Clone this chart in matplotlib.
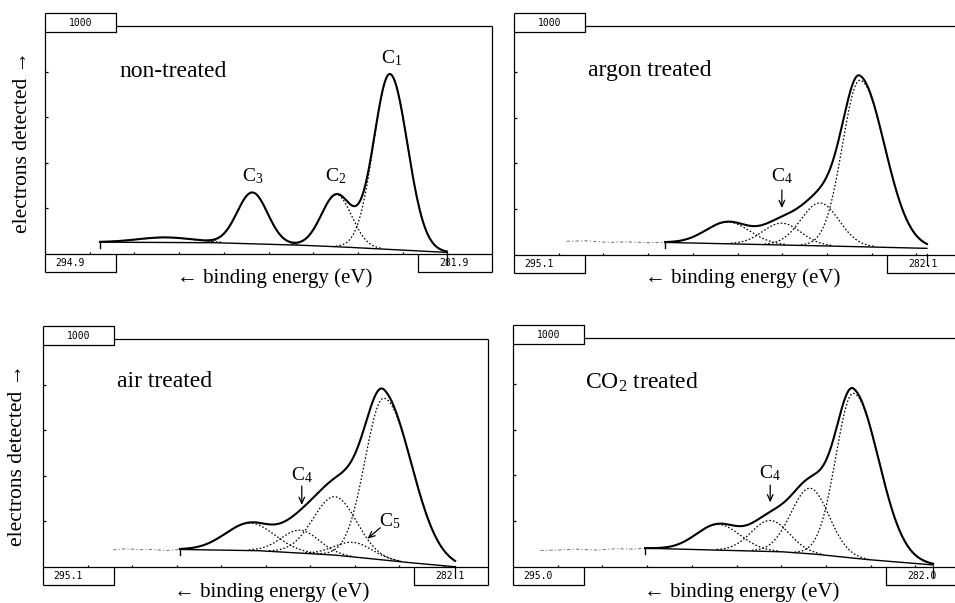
import numpy as np
import matplotlib
matplotlib.use('Agg')
import matplotlib.pyplot as plt

plt.rcParams['font.family'] = ['Liberation Serif', 'DejaVu Serif']
plt.rcParams['mathtext.fontset'] = 'custom'
plt.rcParams['mathtext.rm'] = 'Liberation Serif'
plt.rcParams['mathtext.it'] = 'Liberation Serif:italic'

# ---------------- data ----------------
titles = ['non-treated', 'argon treated', 'air treated', 'CO$_2$ treated']
axis_ranges = [(294.9, 281.9), (295.1, 282.1), (295.1, 282.1), (295.0, 282.0)]
range_labels = [('294.9', '281.9'), ('295.1', '282.1'), ('295.1', '282.1'), ('295.0', '282.0')]
top_label = '1000'

# fitted peak components: centre (eV), height (counts above background),
# half widths at half maximum on the high-BE (left) and low-BE (right) side
nt_centers = [291.40, 288.87, 286.42, 284.87]
nt_heights = [22, 225, 228, 769]
nt_hw_left = [0.95, 0.52, 0.52, 0.55]
nt_hw_right = [0.95, 0.52, 0.52, 0.60]
nt_bg_ev = [293.30, 290.10, 287.70, 286.40, 283.21]
nt_bg_val = [52, 50, 40, 32, 7]
nt_tail_ev = []
nt_tail_val = []

ar_centers = [288.88, 287.31, 286.20, 285.04]
ar_heights = [95, 95, 187, 727]
ar_hw_left = [0.75, 0.65, 0.65, 0.60]
ar_hw_right = [0.75, 0.65, 0.65, 0.85]
ar_bg_ev = [290.71, 286.40, 283.09]
ar_bg_val = [55, 41, 29]
ar_tail_ev = [293.57, 293.00, 292.40, 291.80, 291.20, 290.71]
ar_tail_val = [60, 62, 55, 57, 54, 55]

ai_centers = [289.05, 287.59, 286.57, 286.03, 285.14]
ai_heights = [120, 100, 256, 64, 710]
ai_hw_left = [0.85, 0.65, 0.75, 0.65, 0.65]
ai_hw_right = [0.85, 0.65, 0.75, 0.65, 0.95]
ai_bg_ev = [291.10, 288.86, 286.62, 284.67, 283.06]
ai_bg_val = [77, 72, 53, 23, 1]
ai_tail_ev = [293.05, 292.70, 292.30, 291.90, 291.50, 291.10]
ai_tail_val = [75, 80, 76, 77, 72, 77]

co_centers = [289.03, 287.52, 286.36, 285.10]
co_heights = [112, 135, 286, 720]
co_hw_left = [0.75, 0.65, 0.65, 0.60]
co_hw_right = [0.75, 0.65, 0.65, 0.87]
co_bg_ev = [291.16, 287.23, 286.27, 284.82, 282.78]
co_bg_val = [82, 67, 57, 34, 9]
co_tail_ev = [294.20, 293.70, 293.20, 292.60, 292.00, 291.60, 291.16]
co_tail_val = [72, 74, 78, 74, 80, 78, 82]

# peak annotations: (text, eV, counts) and arrows ((eV, counts) from -> to)
nt_labels = [('C$_1$', 284.81, 836), ('C$_2$', 286.46, 317), ('C$_3$', 288.87, 317)]
nt_arrows = []
ar_labels = [('C$_4$', 287.31, 320)]
ar_arrows = [((287.31, 284), (287.31, 205))]
ai_labels = [('C$_4$', 287.54, 382), ('C$_5$', 284.96, 177)]
ai_arrows = [((287.54, 355), (287.54, 272)), ((285.25, 172), (285.62, 124))]
co_labels = [('C$_4$', 287.52, 387)]
co_arrows = [((287.52, 358), (287.52, 282))]

# ---------------- layout ----------------
W, H = 955, 603
fig = plt.figure(figsize=(W / 100, H / 100), dpi=100)

# pixel geometry of each panel frame: left, right, baseline, top
geoms = [(45, 492, 254, 26), (514, 961, 255, 26), (43, 488, 567, 339), (513, 960, 567, 338)]
title_pos = [(119, 77), (588, 76), (117, 387), (585, 389)]
xlabel_pos = [(275, 278), (743, 278), (272, 592), (742, 592)]
ylabel_pos = [(23, 142), None, (18, 455), None]


def component(x, c, h, hl, hr):
    hw = np.where(x > c, hl, hr)
    return h * np.exp(-np.log(2) * ((x - c) / hw) ** 2)


def draw_panel(i, centers, heights, hwl, hwr, bg_ev, bg_val, tail_ev, tail_val, labels, arrows):
    l, r, base, top = geoms[i]
    pw, ph = r - l, base - top
    ax = fig.add_axes([l / W, 1 - base / H, pw / W, ph / H])
    x0, x1 = axis_ranges[i]
    ax.set_xlim(x0, x1)
    ax.set_ylim(0, 1000)
    ax.axis('off')
    T = ax.transAxes
    fx = lambda p: p / pw
    fy = lambda p: p / ph
    k = dict(transform=T, clip_on=False, color='black', lw=0.9, solid_capstyle='butt')
    bw = fx(71)
    rb = 1 - fx(74)
    # frame
    ax.plot([0, 0], [1 + fy(13), -fy(18)], **k)
    ax.plot([0, bw, bw, 0], [1 + fy(13), 1 + fy(13), 1 - fy(6), 1 - fy(6)], **k)
    ax.plot([bw, 1], [1, 1], **k)
    ax.plot([1, 1], [1, -fy(18)], **k)
    ax.plot([0, 1], [0, 0], **k)
    ax.plot([0, bw, bw], [-fy(18), -fy(18), 0], **k)
    ax.plot([rb, rb, 1], [0, -fy(18), -fy(18)], **k)
    for t in range(1, 10):
        ax.plot([t / 10, t / 10], [0, fy(2.5)], **k)
    for t in range(1, 5):
        ax.plot([0, fx(3)], [t / 5, t / 5], **k)
    mono = dict(transform=T, fontsize=7, family='DejaVu Sans Mono', va='center')
    ax.text(bw / 2, 1 + fy(3.5), top_label, ha='center', **mono)
    ax.text(fx(10), -fy(9), range_labels[i][0], ha='left', **mono)
    ax.text(rb + fx(36), -fy(9), range_labels[i][1], ha='center', **mono)

    # spectrum
    start, end = bg_ev[0], bg_ev[-1]
    xg = np.linspace(start, end, 600)
    bg = np.interp(xg, bg_ev[::-1], bg_val[::-1])
    comps = [component(xg, c, h, a, b) for c, h, a, b in zip(centers, heights, hwl, hwr)]
    env = bg + np.sum(comps, axis=0)
    if tail_ev:
        ax.plot(tail_ev, tail_val, color='0.5', lw=0.8, ls=(0, (3, 2, 1, 2)))
    for comp in comps:
        m = comp > 2.5
        ax.plot(xg[m], (bg + comp)[m], color='black', lw=0.9, ls=(0, (1.3, 1.6)))
    ax.plot(xg, bg, color='black', lw=1.0)
    ax.plot(xg, env, color='black', lw=1.5)
    ax.plot([start, start], [bg_val[0], bg_val[0] - 26], color='black', lw=1.0)
    ax.plot([end, end], [6, -45], color='black', lw=0.9, clip_on=False)

    for txt, ev, val in labels:
        ax.text(ev, val, txt, ha='center', va='baseline', fontsize=14)
    for (a, b) in arrows:
        ax.annotate('', xy=b, xytext=a,
                    arrowprops=dict(arrowstyle='->,head_length=0.45,head_width=0.2', lw=0.9, color='black',
                                    shrinkA=0, shrinkB=0))

    tx, ty = title_pos[i]
    ax.text((tx - l) / pw, (base - ty) / ph, titles[i], transform=T, ha='left', va='baseline', fontsize=17)
    cx, cy = xlabel_pos[i]
    fig.text(cx / W, 1 - cy / H, '\u2190 binding energy (eV)', ha='center', va='center', fontsize=15)
    if ylabel_pos[i] is not None:
        yx, yy = ylabel_pos[i]
        fig.text(yx / W, 1 - yy / H, 'electrons detected \u2192', rotation=90, ha='center', va='center',
                 fontsize=15.5)


draw_panel(0, nt_centers, nt_heights, nt_hw_left, nt_hw_right, nt_bg_ev, nt_bg_val, nt_tail_ev, nt_tail_val,
           nt_labels, nt_arrows)
draw_panel(1, ar_centers, ar_heights, ar_hw_left, ar_hw_right, ar_bg_ev, ar_bg_val, ar_tail_ev, ar_tail_val,
           ar_labels, ar_arrows)
draw_panel(2, ai_centers, ai_heights, ai_hw_left, ai_hw_right, ai_bg_ev, ai_bg_val, ai_tail_ev, ai_tail_val,
           ai_labels, ai_arrows)
draw_panel(3, co_centers, co_heights, co_hw_left, co_hw_right, co_bg_ev, co_bg_val, co_tail_ev, co_tail_val,
           co_labels, co_arrows)

fig.savefig('out.png', dpi=100)
